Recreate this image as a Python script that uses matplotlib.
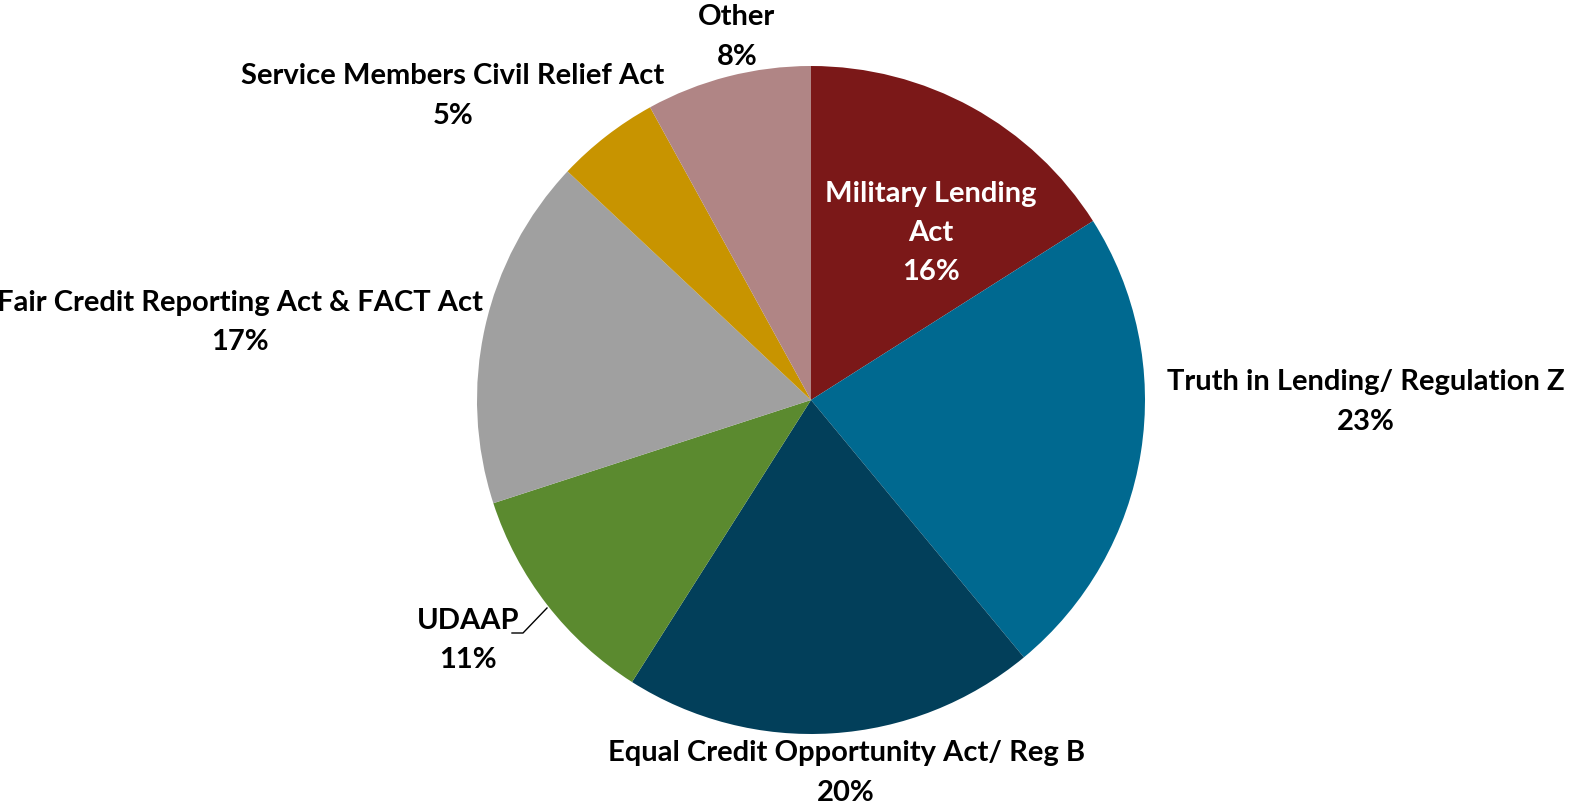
import numpy as np
import matplotlib.pyplot as plt

# Dados
categories = ["Military Lending\nAct", "Truth in Lending/ Regulation Z",
              "Equal Credit Opportunity Act/ Reg B", "UDAAP",
              "Fair Credit Reporting Act & FACT Act",
              "Service Members Civil Relief Act", "Other"]
values = [16, 23, 20, 11, 17, 5, 8]
colors = ["#7B1818", "#006990", "#023F5A", "#5B8A2F", "#A0A0A0", "#C89400", "#B08585"]

# posicao dos rotulos (em raios a partir do centro)
label_pos = [(0.36, 0.50), (1.66, -0.006), (0.105, -1.117), (-1.027, -0.719),
             (-1.71, 0.231), (-1.072, 0.91), (-0.222, 1.087)]

W, H = 1570, 808
cx, cy, R = 811, 400, 334

fig = plt.figure(figsize=(W / 100, H / 100), dpi=100)
ax = fig.add_axes([0, 0, 1, 1])

ax.pie(values, colors=colors, startangle=90, counterclock=False, radius=1,
       wedgeprops=dict(linewidth=0))

ax.set_xlim(-cx / R, (W - cx) / R)
ax.set_ylim(-(H - cy) / R, cy / R)
ax.set_aspect("equal")
ax.axis("off")

for i, (cat, v) in enumerate(zip(categories, values)):
    x, y = label_pos[i]
    col = "white" if i == 0 else "black"
    ax.text(x, y, f"{cat}\n{v}%", ha="center", va="center", color=col,
            fontsize=21, fontweight="bold", family="Lato", linespacing=1.63)

# linha guia UDAAP
ax.plot([(512 - cx) / R, (523 - cx) / R, (547 - cx) / R],
        [(cy - 633) / R, (cy - 633) / R, (cy - 608) / R], color="black", lw=1)

plt.savefig("out.png", dpi=100)
